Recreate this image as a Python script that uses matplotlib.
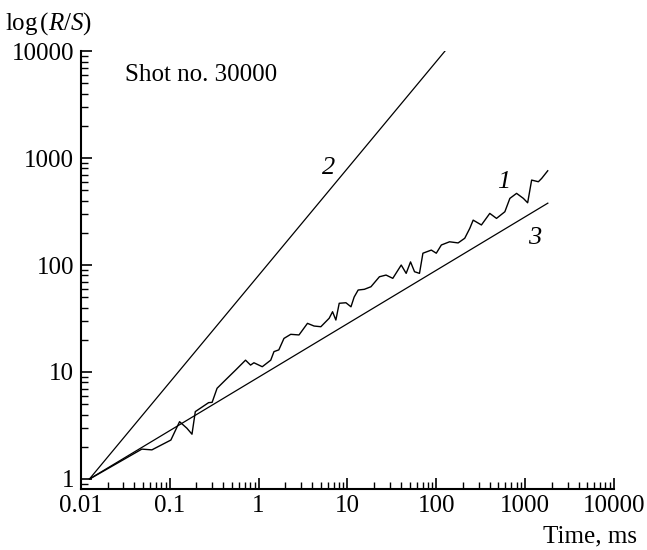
import matplotlib
matplotlib.use("Agg")
import matplotlib.pyplot as plt
import numpy as np

plt.rcParams['font.family'] = ['Liberation Serif', 'DejaVu Serif']
plt.rcParams['mathtext.fontset'] = 'custom'
plt.rcParams['mathtext.rm'] = 'Liberation Serif'
plt.rcParams['mathtext.it'] = 'Liberation Serif:italic'

t1 = [0.0126, 0.0485, 0.063, 0.103, 0.129, 0.156, 0.178, 0.194, 0.274, 0.30,
      0.341, 0.424, 0.55, 0.713, 0.812, 0.886, 1.10, 1.37, 1.49, 1.69,
      1.93, 2.30, 2.85, 3.55, 4.21, 5.02, 6.23, 6.80, 7.41, 8.08,
      9.62, 10.96, 11.9, 13.2, 15.5, 18.4, 22.9, 27.2, 32.4, 40.3,
      45.8, 51.3, 56.9, 64.7, 70.7, 87.9, 100, 114, 141, 176,
      209, 238, 260, 322, 400, 476, 591, 673, 801, 955,
      1067, 1183, 1409, 1535, 1795]
rs1 = [1.0, 1.90, 1.87, 2.31, 3.43, 2.98, 2.62, 4.26, 5.17, 5.2,
       7.04, 8.42, 10.4, 12.9, 11.6, 12.2, 11.2, 12.9, 15.5, 16.1,
       20.6, 22.5, 22.2, 28.5, 26.9, 26.5, 31.8, 36.6, 30.6, 43.9,
       44.4, 40.7, 50.2, 58.4, 59.3, 62.7, 77.7, 80.6, 75.1, 100,
       83.6, 107, 86.6, 83.6, 129, 138, 129, 154, 165, 161,
       178, 220, 263, 237, 304, 273, 315, 420, 468, 420,
       382, 623, 601, 646, 761]

# reference lines: 2 -> H = 1, 3 -> H = 0.5
t2 = [0.0125, 125]
rs2 = [1.0, 10000]
t3 = [0.0125, 1800]
rs3 = [1.0, 379]

fig = plt.figure(figsize=(6.47, 5.5), dpi=100)
ax = fig.add_axes([0.125, 0.111, 0.824, 0.796])

ax.plot(t1, rs1, color='black', lw=1.0)
ax.plot(t2, rs2, color='black', lw=0.9)
ax.plot(t3, rs3, color='black', lw=0.9)

ax.set_xscale('log')
ax.set_yscale('log')
ax.set_xlim(0.01, 10000)
ax.set_ylim(0.806, 10000)

ax.spines['top'].set_visible(False)
ax.spines['right'].set_visible(False)
ax.spines['left'].set_linewidth(1.5)
ax.spines['bottom'].set_linewidth(1.5)

ax.set_xticks([0.01, 0.1, 1, 10, 100, 1000, 10000])
ax.set_xticklabels(['0.01', '0.1', '1', '10', '100', '1000', '10000'])
ax.set_yticks([1, 10, 100, 1000, 10000])
ax.set_yticklabels(['1', '10', '100', '1000', '10000'])
ax.tick_params(which='major', direction='in', length=8, width=1.2,
               labelsize=18)
ax.tick_params(axis='x', which='major', pad=4)
ax.tick_params(axis='y', which='major', pad=5)
ax.tick_params(which='minor', direction='in', length=5, width=1.0)

fig.text(0.008, 0.958, r'$\mathrm{log}\,(R/S)$', fontsize=18, va='center', ha='left')
fig.text(0.985, 0.024, 'Time, ms', fontsize=18, va='center', ha='right')
ax.text(0.0314, 5970, 'Shot no. 30000', fontsize=18, va='center', ha='left')

ax.text(6.2, 807, '2', fontsize=19, style='italic', ha='center', va='center')
ax.text(567, 601, '1', fontsize=19, style='italic', ha='center', va='center')
ax.text(1280, 179, '3', fontsize=19, style='italic', ha='center', va='center')

plt.savefig("out.png", dpi=100)
